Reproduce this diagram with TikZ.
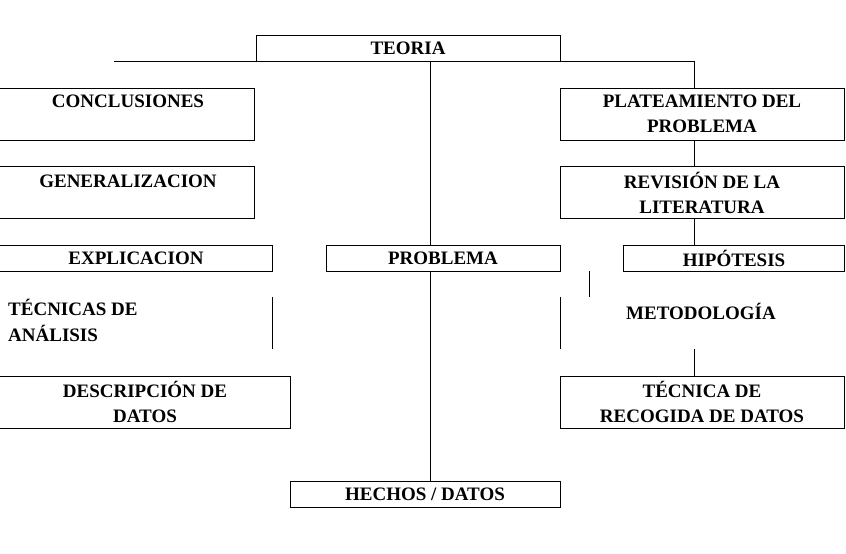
\documentclass[tikz,border=0pt]{standalone}
\usepackage{fontspec}
\setmainfont{Liberation Serif}
\begin{document}
\begin{tikzpicture}[x=1pt,y=-1pt,
  box/.style={draw,line width=0.8pt,inner sep=0pt,anchor=north west},
  txt/.style={font=\fontsize{19}{25.5}\selectfont\bfseries,align=center,inner sep=0pt},
  ln/.style={line width=0.8pt}]
\useasboundingbox (0,0) rectangle (846,554);
% boxes
\node[box,minimum width=304,minimum height=26] (teoria) at (256,35) {};
\node[box,minimum width=256,minimum height=52] (concl) at (-2,88) {};
\node[box,minimum width=256,minimum height=52] (gener) at (-2,166) {};
\node[box,minimum width=274,minimum height=26] (expl) at (-2,245) {};
\node[box,minimum width=292,minimum height=52] (descr) at (-2,376) {};
\node[box,minimum width=234,minimum height=26] (probl) at (326,245) {};
\node[box,minimum width=270,minimum height=26] (hechos) at (290,481) {};
\node[box,minimum width=284,minimum height=52] (plant) at (560,88) {};
\node[box,minimum width=284,minimum height=52] (revis) at (560,166) {};
\node[box,minimum width=221,minimum height=26] (hipo) at (623,245) {};
\node[box,minimum width=284,minimum height=52] (tecr) at (560,376) {};
% texts
\node[txt] (tteoria) at (408,48) {TEORIA};
\node[txt] (tconcl) at (128,101) {CONCLUSIONES};
\node[txt] (tgener) at (128,181) {GENERALIZACION};
\node[txt] (texpl) at (136,258) {EXPLICACION};
\node[txt,align=left,anchor=north west] (ttecan) at (8,299) {TÉCNICAS DE\\ANÁLISIS};
\node[txt] (tdescr) at (145,402) {DESCRIPCIÓN DE\\DATOS};
\node[txt] (tprobl) at (443,258) {PROBLEMA};
\node[txt] (thechos) at (425,494) {HECHOS / DATOS};
\node[txt] (tplant) at (702,114) {PLATEAMIENTO DEL\\PROBLEMA};
\node[txt] (trevis) at (702,193) {REVISIÓN DE LA\\LITERATURA};
\node[txt] (thipo) at (734,258) {HIPÓTESIS};
\node[txt] (tmetod) at (701,311) {METODOLOGÍA};
\node[txt] (ttecr) at (702,402) {TÉCNICA DE\\RECOGIDA DE DATOS};
% connectors
\coordinate (lend) at (114,61);
\coordinate (m1) at (430,61);
\coordinate (r1) at (694,61);
\draw[ln] (lend) -- (r1) -- (plant.north -| r1);
\draw[ln] (m1) -- (probl.north -| m1);
\draw[ln] (probl.south -| m1) -- (hechos.north -| m1);
\draw[ln] (plant.south -| r1) -- (revis.north -| r1);
\draw[ln] (revis.south -| r1) -- (hipo.north -| r1);
\coordinate (h1) at (589,271);
\coordinate (h2) at (589,297);
\draw[ln] (h1) -- (h2);
\coordinate (mt1) at (560,297);
\coordinate (mt2) at (560,349);
\draw[ln] (mt1) -- (mt2);
\coordinate (mt3) at (694,349);
\draw[ln] (mt3) -- (tecr.north -| mt3);
\coordinate (ta1) at (272,297);
\coordinate (ta2) at (272,349);
\draw[ln] (ta1) -- (ta2);
\end{tikzpicture}
\end{document}
